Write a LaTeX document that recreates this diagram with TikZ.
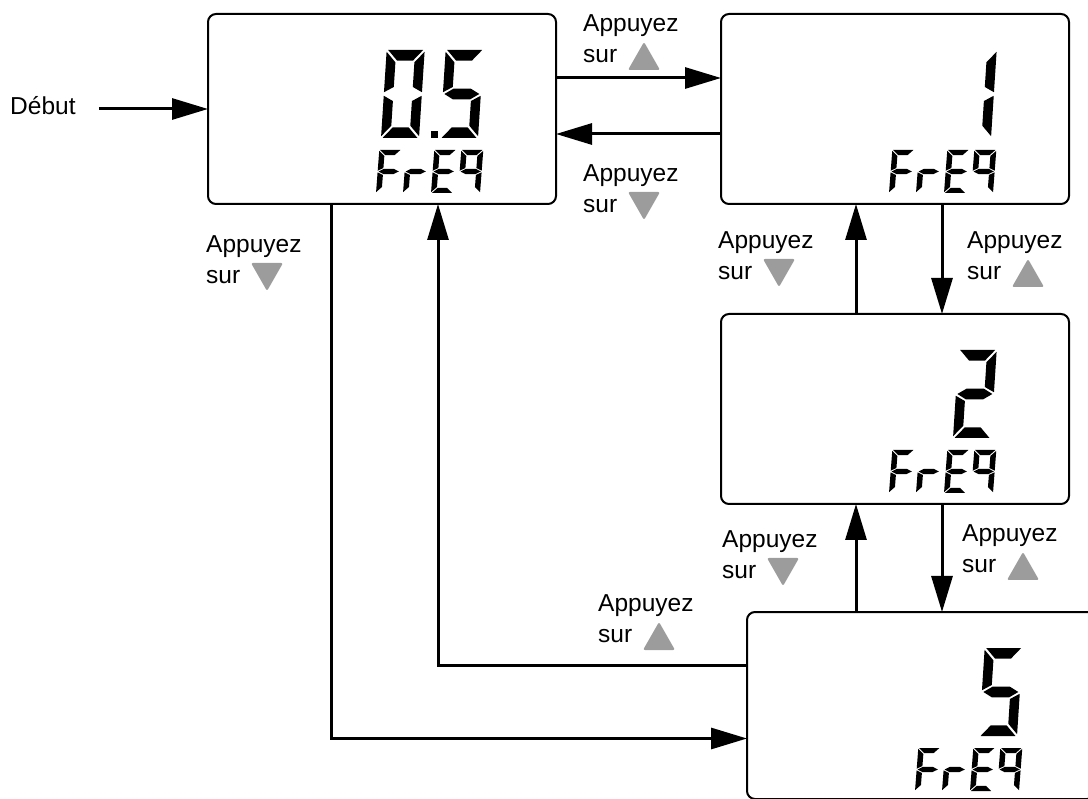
\documentclass[tikz,border=0pt]{standalone}
\usepackage{fontspec}
\setmainfont{Liberation Sans}
\usepackage{tikz}
\usetikzlibrary{arrows.meta,positioning}
\definecolor{KeyGray}{HTML}{9C9C9C}
\tikzset{
  lcdbox/.style={draw, line width=2pt, rounded corners=8pt, minimum width=348pt,
                 minimum height=190pt, inner sep=0pt, outer sep=0pt},
  lcdarr/.style={-{Triangle[length=36pt, width=21pt]}, line width=3pt},
  keylbl/.style={align=left, inner sep=0pt, anchor=south west,
                 font=\fontsize{24.5}{31.5}\selectfont},
  keyfill/.style={fill=KeyGray, rounded corners=2pt},
  bigdigit/.style={xscale=38, yscale=88},
  smalldigit/.style={xscale=22, yscale=43}
}
% seven segments of one LCD cell (unit cell)
\newcommand{\lcdsega}{\fill (.04,1) -- (.96,1) -- (.71,.88) -- (.29,.88) -- cycle;}
\newcommand{\lcdsegb}{\fill (1,.98) -- (1,.52) -- (.75,.58) -- (.75,.86) -- cycle;}
\newcommand{\lcdsegc}{\fill (1,.48) -- (1,.02) -- (.75,.14) -- (.75,.42) -- cycle;}
\newcommand{\lcdsegd}{\fill (.04,0) -- (.96,0) -- (.71,.12) -- (.29,.12) -- cycle;}
\newcommand{\lcdsege}{\fill (0,.48) -- (0,.02) -- (.25,.14) -- (.25,.42) -- cycle;}
\newcommand{\lcdsegf}{\fill (0,.98) -- (0,.52) -- (.25,.58) -- (.25,.86) -- cycle;}
\newcommand{\lcdsegg}{\fill (.04,.5) -- (.27,.56) -- (.73,.56) -- (.96,.5) -- (.73,.44) -- (.27,.44) -- cycle;}
\newcommand{\lcdchar}[4]{%
  \begin{scope}[shift={(#1,#2)}, #3, xslant=.15]
    \foreach \s in {#4} {\csname lcdseg\s\endcsname}
  \end{scope}}
\newcommand{\lcdfreq}{%
  \lcdchar{-180}{-179}{smalldigit}{a,f,g,e}
  \lcdchar{-153}{-179}{smalldigit}{e,g}
  \lcdchar{-125}{-179}{smalldigit}{a,f,g,e,d}
  \lcdchar{-98}{-179}{smalldigit}{a,b,c,f,g}}
\newcommand{\keyup}[1]{\fill[keyfill] ([shift={(45,-7)}]#1.south west) -- ++(32,0) -- ++(-16,28) -- cycle;}
\newcommand{\keydown}[1]{\fill[keyfill] ([shift={(45,21)}]#1.south west) -- ++(32,0) -- ++(-16,-28) -- cycle;}

\begin{document}
\begin{tikzpicture}[x=1pt, y=1pt]
\useasboundingbox (0,0) rectangle (1088,-799);
% displays
\node[lcdbox] (frq05) at (382,-109) {};
\node[lcdbox, right=165pt of frq05] (frq1) {};
\node[lcdbox, below=110pt of frq1] (frq2) {};
\node[lcdbox, minimum height=187pt, below=108pt of frq2, xshift=26pt] (frq5) {};
% readings
\begin{scope}[shift={(frq05.north east)}]
  \lcdchar{-175}{-124}{bigdigit}{a,b,c,d,e,f}
  \fill (-125,-124) rectangle (-118,-117);
  \lcdchar{-116}{-124}{bigdigit}{a,f,g,c,d}
  \lcdfreq
\end{scope}
\begin{scope}[shift={(frq1.north east)}]
  \lcdchar{-116}{-124}{bigdigit}{b,c}
  \lcdfreq
\end{scope}
\begin{scope}[shift={(frq2.north east)}]
  \lcdchar{-116}{-124}{bigdigit}{a,b,g,e,d}
  \lcdfreq
\end{scope}
\begin{scope}[shift={(frq5.north east)}]
  \lcdchar{-116}{-124}{bigdigit}{a,f,g,c,d}
  \lcdfreq
\end{scope}
% key labels
\node[keylbl] (kAB) at (583,-63) {Appuyez\\sur};
\node[keylbl] (kBA) at (583,-213) {Appuyez\\sur};
\node[keylbl] (kAD) at (206,-284) {Appuyez\\sur};
\node[keylbl] (kCB) at (718,-280) {Appuyez\\sur};
\node[keylbl] (kBC) at (967,-280) {Appuyez\\sur};
\node[keylbl] (kDC) at (722,-579) {Appuyez\\sur};
\node[keylbl] (kCD) at (962,-573) {Appuyez\\sur};
\node[keylbl] (kDA) at (598,-643) {Appuyez\\sur};
\keyup{kAB}
\keydown{kBA}
\keydown{kAD}
\keydown{kCB}
\keyup{kBC}
\keydown{kDC}
\keyup{kCD}
\keyup{kDA}
% start
\node[anchor=base west, inner sep=0pt, font=\fontsize{24.5}{31.5}\selectfont] (start) at (10,-115) {Début};
\draw[lcdarr, shorten <=23pt] (start.east |- frq05.west) -- (frq05.west);
% connectors
\draw[lcdarr] ([yshift=31pt]frq05.east) -- ([yshift=31pt]frq1.west);
\draw[lcdarr] ([yshift=-25pt]frq1.west) -- ([yshift=-25pt]frq05.east);
\coordinate (upL) at ([xshift=-39pt]frq1.south);
\coordinate (dnR) at ([xshift=47pt]frq1.south);
\draw[lcdarr] (frq2.north -| upL) -- (upL);
\draw[lcdarr] (dnR) -- (frq2.north -| dnR);
\draw[lcdarr] (frq5.north -| upL) -- (frq2.south -| upL);
\draw[lcdarr] (frq2.south -| dnR) -- (frq5.north -| dnR);
\draw[lcdarr] ([xshift=-51pt]frq05.south) |- ([yshift=-33pt]frq5.west);
\draw[lcdarr] ([yshift=40pt]frq5.west) -| ([xshift=56pt]frq05.south);
\end{tikzpicture}
\end{document}
